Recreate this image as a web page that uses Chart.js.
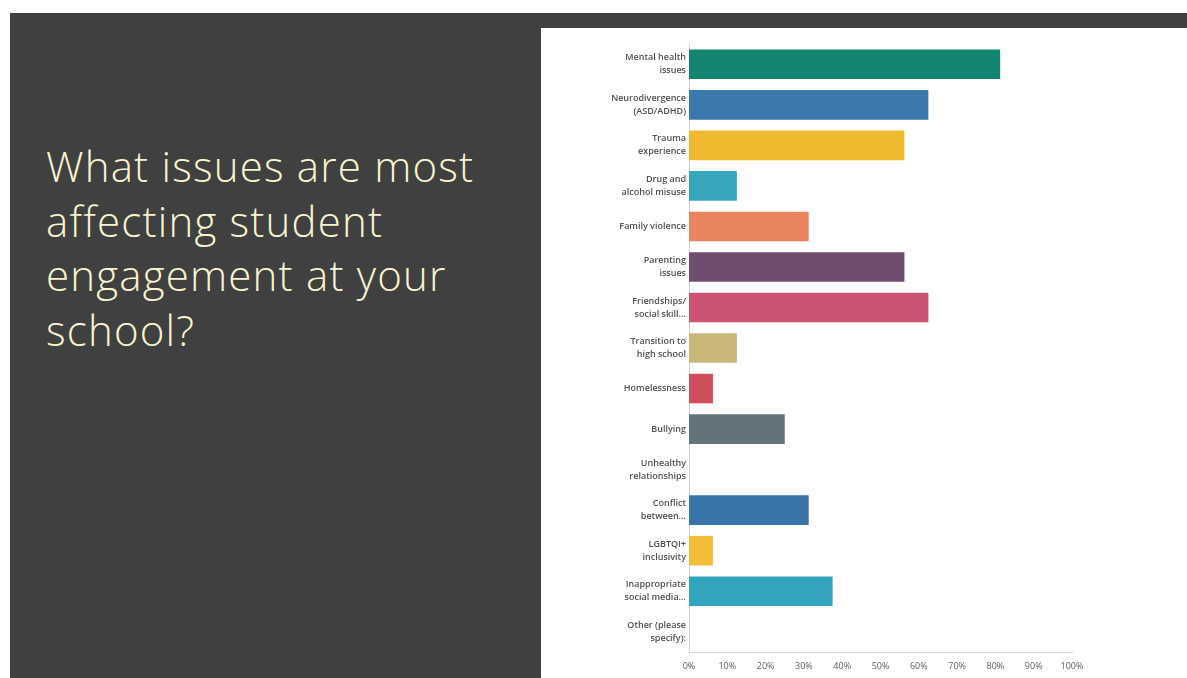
<!DOCTYPE html>
<html>
<head>
<meta charset="utf-8">
<script src="https://cdn.jsdelivr.net/npm/chart.js@4.4.0/dist/chart.umd.min.js"></script>
<style>
    html, body { margin: 0; padding: 0; background: #ffffff; width: 1187px; height: 678px; overflow: hidden; }
    #slide { position: absolute; left: 10px; top: 13px; width: 1177px; height: 665px; background: #404040; }
    #title {
        position: absolute; left: 46px; top: 139px; width: 490px;
        font-family: "Open Sans", sans-serif; font-weight: 300; font-size: 42px; line-height: 54.5px;
        letter-spacing: 1.2px; color: #f7f4cf; margin: 0;
    }
    #panel { position: absolute; left: 541px; top: 28px; width: 646px; height: 650px; background: #ffffff; }
    #chart-issues { display: block; }
</style>
</head>
<body>
<div id="slide"></div>
<p id="title">What issues are most<br>affecting student<br>engagement at your<br>school?</p>
<div id="panel"><canvas id="chart-issues" width="646" height="650"></canvas></div>
<script>
// survey answers, percent of respondents
const issueLabels = [
    ['Mental health', 'issues'],
    ['Neurodivergence', '(ASD/ADHD)'],
    ['Trauma', 'experience'],
    ['Drug and', 'alcohol misuse'],
    'Family violence',
    ['Parenting', 'issues'],
    ['Friendships/', 'social skill...'],
    ['Transition to', 'high school'],
    'Homelessness',
    'Bullying',
    ['Unhealthy', 'relationships'],
    ['Conflict', 'between...'],
    ['LGBTQI+', 'inclusivity'],
    ['Inappropriate', 'social media...'],
    ['Other (please', 'specify):']
];
const issuePercents = [81.25, 62.5, 56.25, 12.5, 31.25, 56.25, 62.5, 12.5, 6.25, 25, 0, 31.25, 6.25, 37.5, 0];
const axisTicks = [0, 10, 20, 30, 40, 50, 60, 70, 80, 90, 100];

const issueColors = [
    '#12846f', '#3b78ad', '#efba30', '#36a6bc', '#ea845f',
    '#6f4d6e', '#cc5371', '#c9b779', '#cf4e59', '#63737a',
    '#8aae52', '#3a74a8', '#f2bc35', '#32a5be', '#cccccc'
];
// -------------------------------------------------------------------------------------------
function drawIssuesChart()
{
    const axisColor = '#d4d4d4';

    let data = {
        labels: issueLabels,
        datasets: [{
            data: issuePercents,
            backgroundColor: issueColors,
            borderWidth: 0,
            barPercentage: 0.73,
            categoryPercentage: 1
        }]
    };

    let options = {
        responsive: false,
        animation: false,
        indexAxis: 'y',
        layout: {
            padding: { top: 14, right: 115, bottom: 0, left: 0 }
        },
        plugins: {
            legend: { display: false },
            tooltip: { enabled: false }
        },
        scales: {
            y: {
                grid: { display: false, drawTicks: false },
                border: { display: true, color: axisColor, width: 1 },
                ticks: {
                    color: '#505050',
                    padding: 3,
                    autoSkip: false,
                    font: { family: 'Open Sans', size: 9, weight: '600', lineHeight: 1.45 }
                },
                afterFit: (scale) => { scale.width = 148; }
            },
            x: {
                min: 0,
                max: 100,
                afterBuildTicks: (scale) => {
                    scale.ticks = axisTicks.map(v => ({ value: v }));
                },
                grid: { display: false, drawTicks: false },
                border: { display: true, color: axisColor, width: 1 },
                ticks: {
                    color: '#5c5c5c',
                    padding: 9,
                    maxRotation: 0,
                    callback: (value) => value + '%',
                    font: { family: 'Open Sans', size: 9 }
                },
                afterFit: (scale) => { scale.height = 26; }
            }
        }
    };

    new Chart('chart-issues', {
        type: 'bar',
        data: data,
        options: options
    });
}
// -------------------------------------------------------------------------------------------
drawIssuesChart();
</script>
</body>
</html>
